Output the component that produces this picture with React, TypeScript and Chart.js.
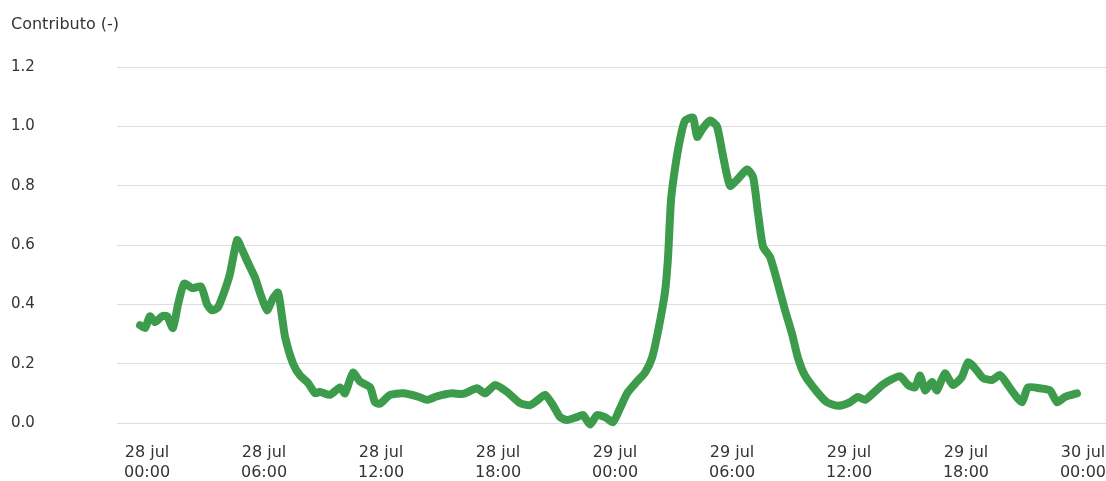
import React, { useEffect, useRef } from "react";
import { Chart, registerables } from "chart.js";

Chart.register(...registerables);

// hours since 28 jul 00:00
const times: number[] = [
  -0.36, -0.1, 0.15, 0.41, 0.77, 1.03, 1.33, 1.59, 1.9, 2.31,
  2.77, 3.08, 3.33, 3.64, 4.0, 4.26, 4.62, 4.87, 5.18, 5.54,
  5.79, 6.15, 6.46, 6.72, 6.92, 7.08, 7.49, 7.85, 8.26, 8.62,
  8.87, 9.38, 9.9, 10.15, 10.56, 10.92, 11.44, 11.69, 11.95, 12.46,
  13.13, 13.85, 14.36, 14.87, 15.64, 16.21, 16.92, 17.33, 17.85, 18.46,
  19.13, 19.64, 20.05, 20.41, 20.82, 21.18, 21.54, 22.05, 22.36, 22.72,
  23.08, 23.49, 23.9, 24.26, 24.62, 25.13, 25.54, 25.9, 26.21, 26.56,
  26.72, 26.87, 27.08, 27.33, 27.59, 28.0, 28.21, 28.51, 28.87, 29.23,
  29.54, 29.9, 30.26, 30.77, 31.08, 31.33, 31.59, 31.95, 32.31, 32.72,
  33.08, 33.38, 33.74, 34.36, 34.87, 35.44, 36.05, 36.46, 36.82, 37.23,
  37.74, 38.21, 38.62, 39.03, 39.38, 39.64, 39.9, 40.26, 40.51, 40.92,
  41.33, 41.79, 42.1, 42.46, 42.87, 43.33, 43.74, 44.15, 44.51, 44.87,
  45.18, 45.79, 46.31, 46.67, 47.08, 47.69,
];

const values: number[] = [
  0.33, 0.32, 0.36, 0.34, 0.36, 0.36, 0.32, 0.4, 0.47, 0.455,
  0.46, 0.4, 0.38, 0.39, 0.45, 0.505, 0.617, 0.585, 0.54, 0.49,
  0.44, 0.38, 0.42, 0.44, 0.36, 0.29, 0.2, 0.16, 0.135, 0.1,
  0.105, 0.095, 0.12, 0.1, 0.17, 0.14, 0.12, 0.07, 0.065, 0.095,
  0.1, 0.09, 0.078, 0.09, 0.1, 0.098, 0.117, 0.1, 0.128, 0.105,
  0.067, 0.06, 0.078, 0.095, 0.06, 0.02, 0.01, 0.02, 0.027, -0.005,
  0.027, 0.02, 0.003, 0.05, 0.1, 0.14, 0.17, 0.22, 0.31, 0.44,
  0.56, 0.75, 0.86, 0.955, 1.02, 1.03, 0.965, 0.995, 1.02, 1.0,
  0.9, 0.8, 0.82, 0.855, 0.83, 0.71, 0.595, 0.56, 0.48, 0.38,
  0.3, 0.22, 0.16, 0.105, 0.07, 0.058, 0.07, 0.088, 0.078, 0.1,
  0.13, 0.148, 0.158, 0.128, 0.12, 0.16, 0.11, 0.138, 0.11, 0.168,
  0.128, 0.155, 0.205, 0.185, 0.152, 0.145, 0.162, 0.128, 0.095, 0.07,
  0.12, 0.117, 0.11, 0.07, 0.088, 0.1,
];

const tickHours: number[] = [0, 6, 12, 18, 24, 30, 36, 42, 48];
const tickDays: string[] = ["28 jul", "28 jul", "28 jul", "28 jul", "29 jul", "29 jul", "29 jul", "29 jul", "30 jul"];
const tickTimes: string[] = ["00:00", "06:00", "12:00", "18:00", "00:00", "06:00", "12:00", "18:00", "00:00"];

const yTicks: number[] = [0, 0.2, 0.4, 0.6, 0.8, 1.0, 1.2];
const axisTitle = "Contributo (-)";

const FONT = "'DejaVu Sans', sans-serif";
const TEXT = "#333333";

export default function App() {
  const ref = useRef<HTMLCanvasElement | null>(null);

  useEffect(() => {
    if (!ref.current) return;
    const chart = new Chart(ref.current, {
      type: "line",
      data: {
        datasets: [
          {
            data: times.map((t, i) => ({ x: t, y: values[i] })),
            borderColor: "#3d9b4c",
            borderWidth: 8,
            pointRadius: 0,
            tension: 0.2,
            borderJoinStyle: "round",
            borderCapStyle: "round",
            clip: false,
          },
        ],
      },
      options: {
        animation: false,
        responsive: true,
        maintainAspectRatio: false,
        layout: { padding: { left: 11, right: 0, top: 0, bottom: 0 } },
        plugins: {
          legend: { display: false },
          tooltip: { enabled: false },
          title: {
            display: true,
            text: axisTitle,
            align: "start",
            color: TEXT,
            font: { family: FONT, size: 16, weight: "normal", lineHeight: 1.2 },
            padding: { top: 15, bottom: 33 },
          },
        },
        scales: {
          x: {
            type: "linear",
            min: -1.54,
            max: 49.18,
            grid: { display: false, drawTicks: false },
            border: { display: false },
            afterBuildTicks: (scale: any) => {
              scale.ticks = tickHours.map((v) => ({ value: v }));
            },
            afterFit: (scale: any) => {
              scale.height = 58;
              scale.paddingLeft = 0;
              scale.paddingRight = 0;
            },
            ticks: {
              autoSkip: false,
              maxRotation: 0,
              minRotation: 0,
              padding: 20,
              color: TEXT,
              font: { family: FONT, size: 16, lineHeight: 1.25 },
              callback: (v: any) => {
                const i = tickHours.indexOf(Number(v));
                return i >= 0 ? [tickDays[i], tickTimes[i]] : "";
              },
            },
          },
          y: {
            min: 0,
            max: 1.2,
            grid: { color: "#dddddd", lineWidth: 1, drawTicks: false },
            border: { display: false },
            afterBuildTicks: (scale: any) => {
              scale.ticks = yTicks.map((v) => ({ value: v }));
            },
            afterFit: (scale: any) => {
              scale.width = 106;
            },
            ticks: {
              crossAlign: "far",
              color: TEXT,
              font: { family: FONT, size: 15 },
              callback: (v: any) => Number(v).toFixed(1),
            },
          },
        },
      },
    });
    return () => chart.destroy();
  }, []);

  return (
    <div style={{ position: "fixed", left: 0, top: 0, width: 1106, height: 481, background: "#fff" }}>
      <canvas ref={ref} />
    </div>
  );
}
